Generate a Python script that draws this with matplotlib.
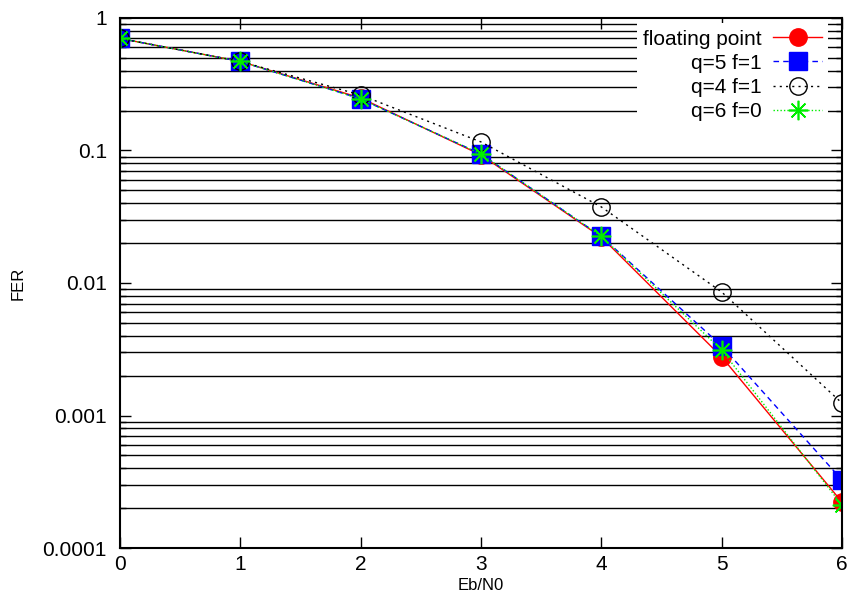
import numpy as np
import matplotlib.pyplot as plt
from matplotlib.ticker import FixedFormatter, FixedLocator

plt.rcParams.update({
    "font.family": ["Liberation Sans", "DejaVu Sans"],
    "font.size": 15,
})

# --- data ---
ebn0 = [0, 1, 2, 3, 4, 5, 6]
fer_float = [0.70, 0.47, 0.249, 0.0925, 0.0222, 0.00277, 0.000222]
fer_q5f1 = [0.70, 0.47, 0.245, 0.094, 0.0225, 0.00335, 0.000326]
fer_q4f1 = [0.70, 0.47, 0.262, 0.116, 0.0375, 0.00855, 0.00124]
fer_q6f0 = [0.70, 0.47, 0.245, 0.094, 0.0225, 0.00312, 0.000211]

ytick_vals = [1e-4, 1e-3, 1e-2, 1e-1, 1]
ytick_labels = ["0.0001", "0.001", "0.01", "0.1", "1"]

fig = plt.figure(figsize=(8.5, 5.99), dpi=100)
ax = fig.add_axes([0.1412, 0.0851, 0.8494, 0.8849])

# minor grid lines (gnuplot style: solid black across the whole plot)
minor_vals = [m * 10.0**e for e in range(-4, 0) for m in range(2, 10)]
for v in minor_vals:
    ax.axhline(v, color="black", lw=1.0, zorder=1)

ax.plot(ebn0, fer_float, color="red", lw=1.0, ls="-", marker="o", ms=12.5,
        mfc="red", mec="red", label="floating point", zorder=3)
ax.plot(ebn0, fer_q5f1, color="blue", lw=1.0, ls=(0, (4, 3)), marker="s", ms=12.5,
        mfc="blue", mec="blue", label="q=5 f=1", zorder=3)
ax.plot(ebn0, fer_q4f1, color="black", lw=1.0, ls=(0, (1.5, 3)), marker="o", ms=12.5,
        mfc="none", mec="black", mew=1.0, label="q=4 f=1", zorder=3)
ax.plot(ebn0, fer_q6f0, color="#00ee00", lw=1.0, ls=(0, (1, 1.5)), marker=(8, 2, 0), ms=14,
        mec="#00ee00", mew=1.2, label="q=6 f=0", zorder=4)

ax.set_yscale("log")
ax.set_xlim(0, 6)
ax.set_ylim(1e-4, 1)
ax.yaxis.set_major_locator(FixedLocator(ytick_vals))
ax.yaxis.set_major_formatter(FixedFormatter(ytick_labels))
ax.yaxis.set_minor_locator(FixedLocator(minor_vals))
ax.set_xticks(ebn0)

ax.tick_params(which="major", direction="in", length=8, width=1.0,
               top=True, right=True, labelsize=15)
ax.tick_params(axis="y", which="major", pad=9.5)
ax.tick_params(axis="x", which="major", pad=5)
ax.tick_params(which="minor", direction="in", length=4, width=1.0,
               right=True, left=True)
for s in ax.spines.values():
    s.set_linewidth(1.5)
    s.set_zorder(5)

ax.set_xlabel("Eb/N0", fontsize=12, labelpad=3)
ax.set_ylabel("FER", fontsize=12, labelpad=12)

leg = ax.legend(loc="upper right", bbox_to_anchor=(0.981, 0.99),
                markerfirst=False, frameon=True,
                facecolor="white", edgecolor="none", framealpha=1.0,
                fancybox=False, handlelength=2.35, labelspacing=0.25,
                borderpad=0.3, borderaxespad=0.0, fontsize=15, handletextpad=0.55)
leg.set_zorder(6)
for t in leg.get_texts():
    t.set_ha("right")
leg._legend_box.align = "right"

fig.savefig("out.png", dpi=100)
